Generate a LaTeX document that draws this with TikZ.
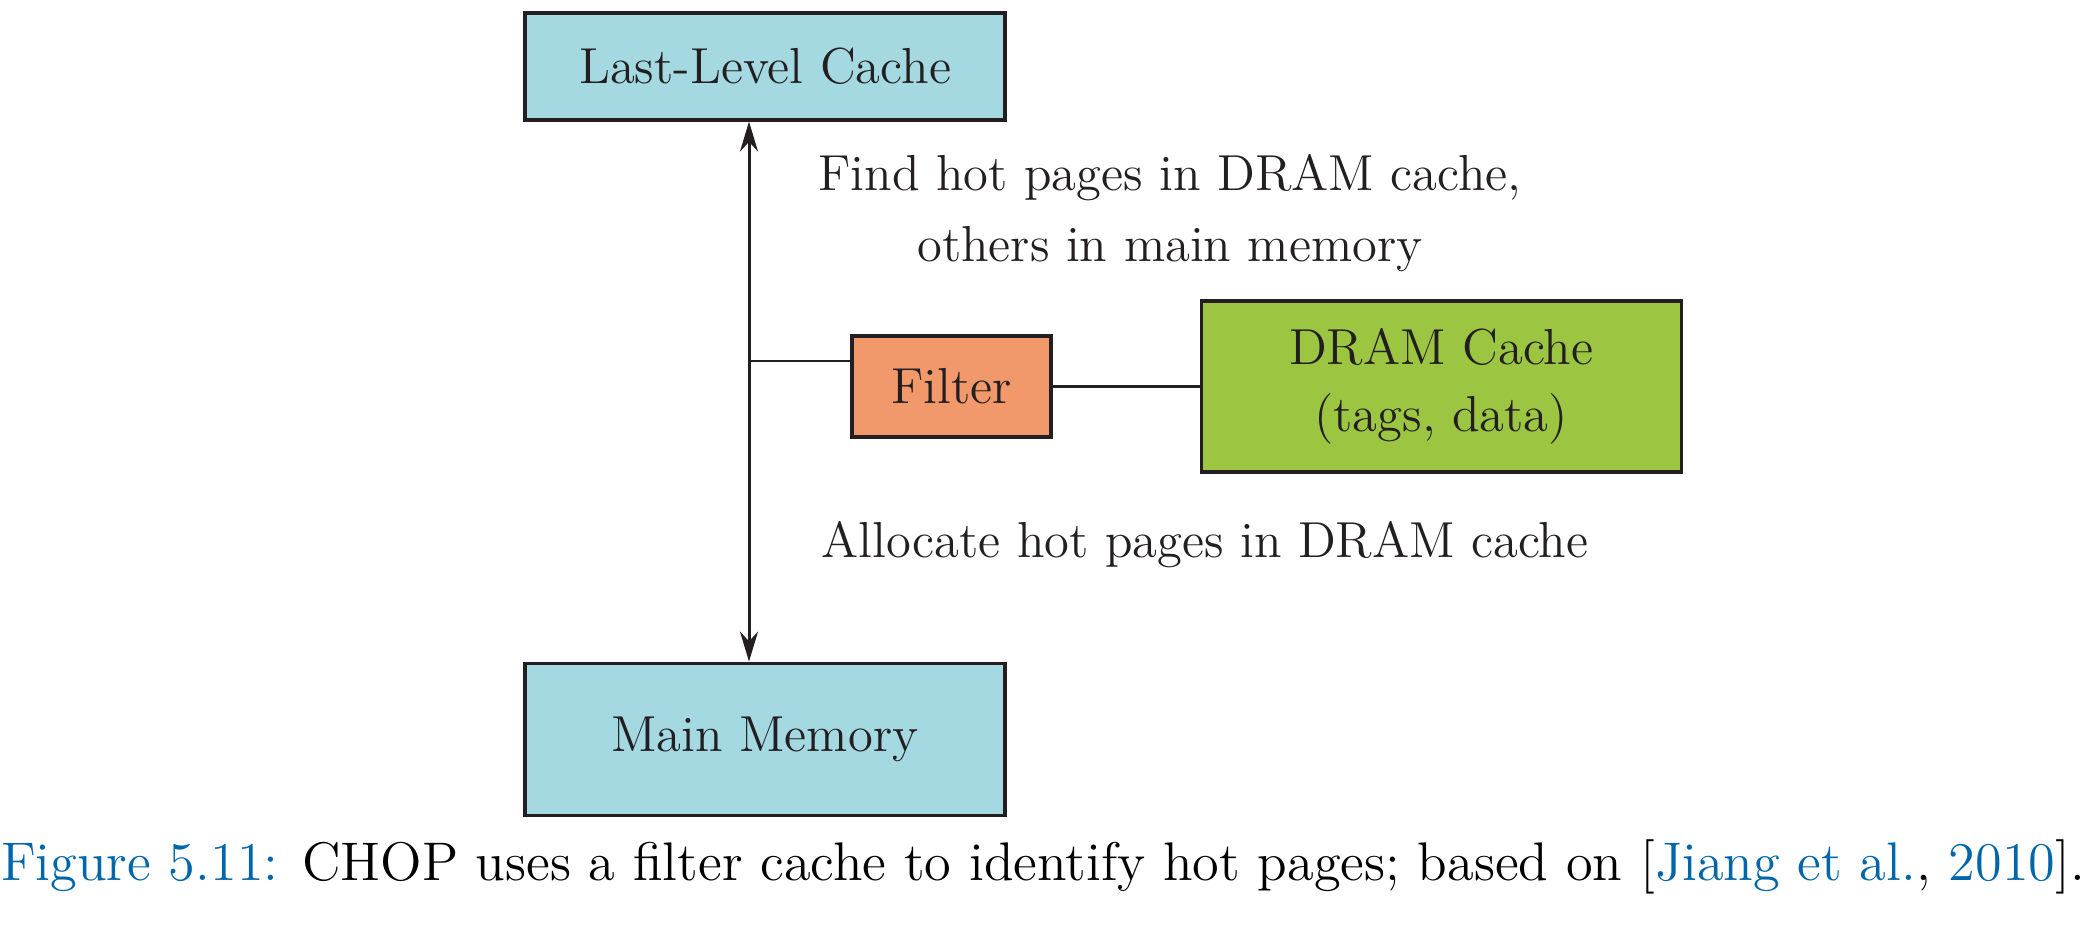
\documentclass[tikz,border=0pt]{standalone}
\usepackage{xcolor}
\usepackage{graphicx}
\usepackage{tikz}
\usetikzlibrary{positioning,arrows.meta,calc}
\definecolor{cacheblue}{RGB}{164,217,226}
\definecolor{filterorange}{RGB}{241,153,107}
\definecolor{dramgreen}{RGB}{156,197,66}
\definecolor{linegray}{RGB}{35,31,32}
\definecolor{capblue}{RGB}{0,102,170}
\tikzset{
  memblock/.style = {draw=linegray, line width=0.9pt, align=center, inner sep=2pt,
                     font=\fontsize{14.4}{19}\selectfont, text=linegray},
  note/.style     = {align=center, inner sep=0pt, font=\fontsize{14.4}{20.4}\selectfont, text=linegray},
  wire/.style     = {draw=linegray, line width=0.85pt},
  bidir/.style    = {wire, {Stealth[length=0.30cm,width=0.18cm]}-{Stealth[length=0.30cm,width=0.18cm]}},
}
\begin{document}
\begin{tikzpicture}[node distance=5.40cm]
  \useasboundingbox (0,0) rectangle (20.85,9.38);
  \node[memblock, fill=cacheblue, minimum width=4.80cm, minimum height=1.07cm] (llc) at (7.65,8.715) {Last-Level Cache};
  \node[memblock, fill=cacheblue, minimum width=4.80cm, minimum height=1.52cm, below=of llc] (mm) {Main Memory};
  \node[memblock, fill=filterorange, minimum width=1.99cm, minimum height=1.01cm] (filter) at (9.515,5.515) {Filter};
  \node[memblock, fill=dramgreen, minimum width=4.80cm, minimum height=1.71cm, right=1.47cm of filter] (dram) {DRAM Cache\\(tags, data)};
  \coordinate (bus) at (7.49,5.77);
  % notes beside the bus
  \node[note] (findnote) at (11.70,7.25) {Find hot pages in DRAM cache,\\others in main memory};
  \node[note] (allocnote) at (12.05,3.93) {Allocate hot pages in DRAM cache};
  % connectors
  \draw[bidir] (llc.south -| bus) -- (mm.north -| bus);
  \draw[wire] (bus) -- (bus -| filter.west);
  \draw[wire] (filter.east) -- (dram.west);
  % caption
  \node[note, text=black] (caption) at (10.43,0.71)
    {\scalebox{1.075}{\textcolor{capblue}{Figure 5.11:} CHOP uses a filter cache to identify hot pages; based on [\textcolor{capblue}{Jiang et al.}, \textcolor{capblue}{2010}].}};
\end{tikzpicture}
\end{document}
